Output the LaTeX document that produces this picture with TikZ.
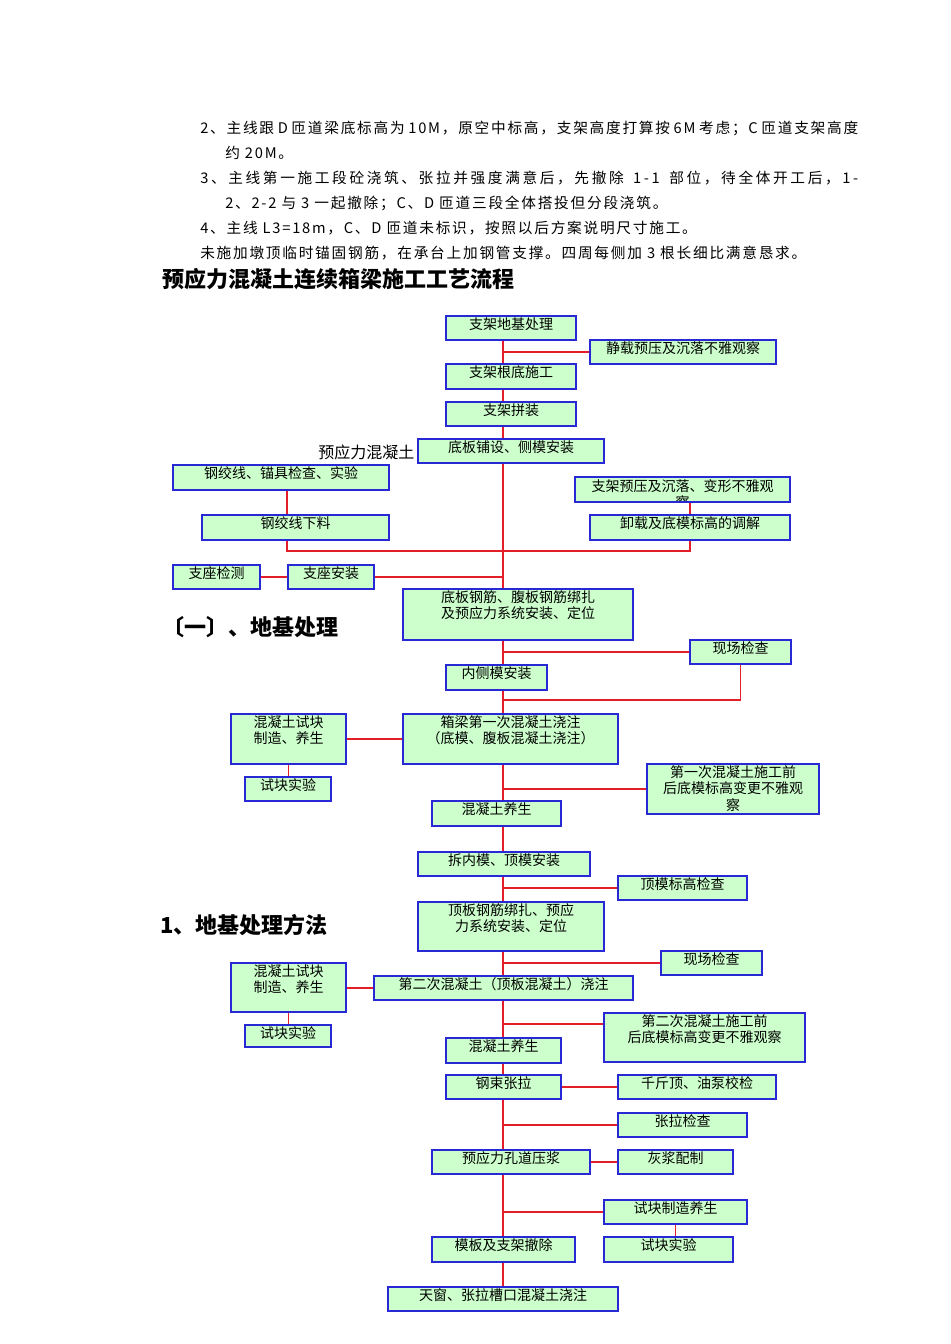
\documentclass[tikz,border=0pt]{standalone}
\usepackage{fontspec}
\usetikzlibrary{calc}
\setmainfont{Noto Sans CJK SC}
\newfontfamily\cjk{Noto Sans CJK SC}
\newfontfamily\bodyfont[LetterSpace=12]{Noto Sans CJK SC}
\newfontfamily\bodywide[LetterSpace=18]{Noto Sans CJK SC}
\XeTeXlinebreaklocale "zh"
\XeTeXlinebreakskip=0pt plus 1pt
\newdimen\px \px=0.75pt
\newcommand\bx[3]{\parbox[c][#2\px][t]{#1\px}{\centering\rule{0pt}{9.8pt}#3}}
\definecolor{boxgreen}{RGB}{204,255,204}
\definecolor{boxblue}{RGB}{40,40,215}
\definecolor{linkred}{RGB}{228,30,40}

\begin{document}
\begin{tikzpicture}[x=0.75pt,y=-0.75pt,
  box/.style={draw=boxblue,line width=1.5pt,fill=boxgreen,inner sep=0pt,
    anchor=north west,font=\cjk\fontsize{10.5}{12.4}\selectfont},
  link/.style={draw=linkred,line width=1.25pt},
  txt/.style={anchor=west,inner sep=0pt,font=\bodyfont\fontsize{11}{13}\selectfont},
  head/.style={anchor=west,inner sep=0pt,font=\cjk\bfseries\fontsize{16.5}{18}\selectfont}]

  \useasboundingbox (0,0) rectangle (950,1344);
  \coordinate (t) at (503,0); %% trunk line

  %% notes above the chart
  \node[txt] (l1) at (200,128) {\makebox[658\px][s]{2、主线跟 D 匝道梁底标高为 10M，原空中标高，支架高度打算按 6M 考虑；C 匝道支架高度}};
  \node[txt] (l2) at (225,153) {约 20M。};
  \node[txt,font=\bodywide\fontsize{11}{13}\selectfont] (l3) at (200,178) {\makebox[658\px][s]{3、主线第一施工段砼浇筑、张拉并强度满意后，先撤除 1-1 部位，待全体开工后，1-}};
  \node[txt] (l4) at (225,203) {2、2-2 与 3 一起撤除；C、D 匝道三段全体搭投但分段浇筑。};
  \node[txt] (l5) at (200,228) {4、主线 L3=18m，C、D 匝道未标识，按照以后方案说明尺寸施工。};
  \node[txt] (l6) at (200,253) {未施加墩顶临时锚固钢筋，在承台上加钢管支撑。四周每侧加 3 根长细比满意恳求。};

  \node[head] (title) at (162,279) {预应力混凝土连续箱梁施工工艺流程};
  \node[head] (h1) at (162,627) {〔一〕、地基处理};
  \node[head] (h2) at (160,925) {1、地基处理方法};
  \node[anchor=west,inner sep=0pt,font=\cjk\fontsize{12}{14}\selectfont] (yylbl) at (318,452) {预应力混凝土};

  %% boxes, top part
  \node[box] (jichu) at (445,315) {\bx{130}{24}{支架地基处理}};
  \node[box] (jingzai) at (589,339) {\bx{186}{24}{静载预压及沉落不雅观察}};
  \node[box] (gendi) at (445,363) {\bx{130}{25}{支架根底施工}};
  \node[box] (pinzhuang) at (445,401) {\bx{130}{24}{支架拼装}};
  \node[box] (dibanpu) at (417,438) {\bx{186}{24}{底板铺设、侧模安装}};
  \node[box] (gjxjc) at (172,464) {\bx{216}{25}{钢绞线、锚具检查、实验}};
  \node[box,path picture={\node[anchor=north,inner sep=0pt,font=\cjk\fontsize{10.5}{12.4}\selectfont]
      at (path picture bounding box.north) {\bx{215}{40}{支架预压及沉落、变形不雅观\\察}};}]
    (yuya) at (574,476) {\bx{215}{25}{}};
  \node[box] (gjxxl) at (201,514) {\bx{187}{25}{钢绞线下料}};
  \node[box] (xiezai) at (589,514) {\bx{200}{25}{卸载及底模标高的调解}};
  \node[box] (zzjc) at (172,564) {\bx{87}{24}{支座检测}};
  \node[box] (zzaz) at (287,564) {\bx{86}{24}{支座安装}};
  \node[box] (dbgj) at (402,588) {\bx{230}{51}{底板钢筋、腹板钢筋绑扎\\及预应力系统安装、定位}};

  %% first pour
  \node[box] (xcjc1) at (689,639) {\bx{101}{24}{现场检查}};
  \node[box] (neimo) at (445,664) {\bx{101}{25}{内侧模安装}};
  \node[box] (sk1) at (230,713) {\bx{115}{50}{混凝土试块\\制造、养生}};
  \node[box] (xl1) at (402,713) {\bx{215}{50}{箱梁第一次混凝土浇注\\（底模、腹板混凝土浇注）}};
  \node[box] (sksy1) at (244,776) {\bx{86}{24}{试块实验}};
  \node[box] (chakan1) at (646,763) {\bx{172}{50}{第一次混凝土施工前\\后底模标高变更不雅观\\察}};
  \node[box] (yang1) at (431,800) {\bx{129}{25}{混凝土养生}};

  %% second pour
  \node[box] (chaimo) at (417,851) {\bx{172}{24}{拆内模、顶模安装}};
  \node[box] (dingmo) at (617,875) {\bx{129}{24}{顶模标高检查}};
  \node[box] (dbgj2) at (417,901) {\bx{186}{49}{顶板钢筋绑扎、预应\\力系统安装、定位}};
  \node[box] (xcjc2) at (660,950) {\bx{101}{24}{现场检查}};
  \node[box] (sk2) at (230,962) {\bx{115}{49}{混凝土试块\\制造、养生}};
  \node[box] (erci) at (373,975) {\bx{259}{24}{第二次混凝土（顶板混凝土）浇注}};
  \node[box] (sksy2) at (244,1024) {\bx{86}{22}{试块实验}};
  \node[box] (chakan2) at (603,1012) {\bx{201}{49}{第二次混凝土施工前\\后底模标高变更不雅观察}};
  \node[box] (yang2) at (445,1037) {\bx{115}{25}{混凝土养生}};

  %% tensioning and grouting
  \node[box] (zhangla) at (445,1074) {\bx{115}{24}{钢束张拉}};
  \node[box] (qianjin) at (617,1074) {\bx{158}{24}{千斤顶、油泵校检}};
  \node[box] (zljc) at (617,1112) {\bx{129}{24}{张拉检查}};
  \node[box] (yajiang) at (431,1149) {\bx{158}{24}{预应力孔道压浆}};
  \node[box] (huijiang) at (617,1149) {\bx{115}{24}{灰浆配制}};
  \node[box] (skzz) at (603,1199) {\bx{143}{24}{试块制造养生}};
  \node[box] (mbcc) at (431,1236) {\bx{143}{25}{模板及支架撤除}};
  \node[box] (sksy3) at (603,1236) {\bx{129}{25}{试块实验}};
  \node[box] (tianchuang) at (387,1286) {\bx{230}{24}{天窗、张拉槽口混凝土浇注}};

  %% connectors
  \coordinate (gx) at (287,551);
  \coordinate (r1) at (503,700);
  \coordinate (r2) at ($(chakan2.north west)+(0,12)$);

  \draw[link] (jichu.south -| t) -- (gendi.north -| t);
  \draw[link] (jingzai.west) -- (jingzai.west -| t);
  \draw[link] (gendi.south -| t) -- (pinzhuang.north -| t);
  \draw[link] (pinzhuang.south -| t) -- (dibanpu.north -| t);
  \draw[link] (dibanpu.south -| t) -- (dbgj.north -| t);
  \draw[link] (gjxjc.south -| gx) -- (gjxxl.north -| gx);
  \draw[link] (gjxxl.south -| gx) -- (gx) -- (gx -| xiezai.south) -- (xiezai.south);
  \draw[link] (yuya.south -| xiezai.north) -- (xiezai.north);
  \draw[link] (zzjc) -- (zzaz);
  \draw[link] (zzaz.east) -- (zzaz.east -| t);

  \draw[link] (dbgj.south -| t) -- (neimo.north -| t);
  \draw[link] (xcjc1.west) -- (xcjc1.west -| t);
  \draw[link] (xcjc1.south) -- (xcjc1.south |- r1) -- (r1);
  \draw[link] (neimo.south -| t) -- (xl1.north -| t);
  \draw[link] (sk1) -- (xl1);
  \draw[link] (sk1.south) -- (sk1.south |- sksy1.north);
  \draw[link] (xl1.south -| t) -- (yang1.north -| t);
  \draw[link] (chakan1.west) -- (chakan1.west -| t);

  \draw[link] (yang1.south -| t) -- (chaimo.north -| t);
  \draw[link] (chaimo.south -| t) -- (dbgj2.north -| t);
  \draw[link] (dingmo.west) -- (dingmo.west -| t);
  \draw[link] (dbgj2.south -| t) -- (erci.north -| t);
  \draw[link] (xcjc2.west) -- (xcjc2.west -| t);
  \draw[link] (sk2.east |- erci.west) -- (erci.west);
  \draw[link] (sk2.south) -- (sk2.south |- sksy2.north);
  \draw[link] (erci.south -| t) -- (yang2.north -| t);
  \draw[link] (r2) -- (r2 -| t);

  \draw[link] (yang2.south -| t) -- (zhangla.north -| t);
  \draw[link] (zhangla) -- (qianjin);
  \draw[link] (zhangla.south -| t) -- (yajiang.north -| t);
  \draw[link] (zljc.west) -- (zljc.west -| t);
  \draw[link] (yajiang) -- (huijiang);
  \draw[link] (yajiang.south -| t) -- (mbcc.north -| t);
  \draw[link] (skzz.west) -- (skzz.west -| t);
  \draw[link] (skzz.south) -- (skzz.south |- sksy3.north);
  \draw[link] (mbcc.south -| t) -- (tianchuang.north -| t);

\end{tikzpicture}
\end{document}
